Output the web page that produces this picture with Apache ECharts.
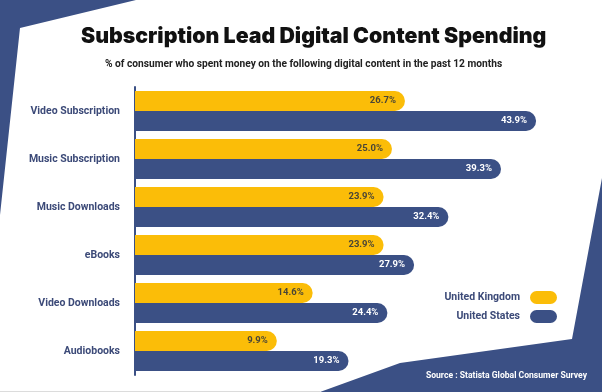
<!DOCTYPE html>
<html>
<head>
<meta charset="utf-8">
<script src="https://cdn.jsdelivr.net/npm/echarts@6/dist/echarts.min.js"></script>
<style>html,body{margin:0;padding:0;background:#fff}#c{width:602px;height:392px}</style>
</head>
<body>
<div id="c"></div>
<script>
const categories = ['Video Subscription','Music Subscription','Music Downloads','eBooks','Video Downloads','Audiobooks'];
const ukValues = [26.7, 25.0, 23.9, 23.9, 14.6, 9.9];
const usValues = [43.9, 39.3, 32.4, 27.9, 24.4, 19.3];
const seriesNames = ['United Kingdom','United States'];

const BLUE = '#3b5085';
const YELLOW = '#fbbd08';
const LABEL_BLUE = '#3c4a78';
const TFONT = 'Inter, Roboto, "Noto Sans", sans-serif';
const FONT = 'Roboto, Inter, "Noto Sans", sans-serif';
const pill = 'path://M6.5,0 H20.5 A6.5,6.5 0 0 1 20.5,13 H6.5 A6.5,6.5 0 0 1 6.5,0 Z';

const chart = echarts.init(document.getElementById('c'), null, {renderer:'canvas'});
chart.setOption({
  backgroundColor: '#ffffff',
  animation: false,
  graphic: [
    {type:'polygon', z:-10, shape:{points:[[0,0],[136,0],[20,28],[0,215]]}, style:{fill:BLUE}},
    {type:'polygon', z:-10, shape:{points:[[602,178],[572,339],[400,363],[320,392],[602,392]]}, style:{fill:BLUE}},
    {type:'line', z:-9, shape:{x1:0,y1:391.5,x2:320,y2:391.5}, style:{stroke:'#dcdcdc', lineWidth:1}}
  ],
  title: [
    {text:'Subscription Lead Digital Content Spending', left:81, top:26, padding:0,
     textStyle:{fontFamily:TFONT, fontWeight:900, fontSize:21.3, color:'#111111'}},
    {text:'% of consumer who spent money on the following digital content in the past 12 months', left:105, top:59, padding:0,
     textStyle:{fontFamily:FONT, fontWeight:700, fontSize:10.2, color:'#222222'}},
    {text:'Source : Statista Global Consumer Survey', right:15, top:371, padding:0,
     textStyle:{fontFamily:FONT, fontWeight:700, fontSize:8.6, color:'#ffffff'}}
  ],
  legend: {
    orient:'vertical', align:'right', right:40, top:286,
    itemWidth:27, itemHeight:13, itemGap:6,
    data: seriesNames.map(n => ({name:n, icon:pill})),
    textStyle:{fontFamily:FONT, fontWeight:700, fontSize:10.5, color:LABEL_BLUE, padding:[0,5,0,0]}
  },
  grid: {left:135, top:87, width:427, height:288, containLabel:false},
  xAxis: {type:'value', min:-8.7, max:47.3, startValue:-8.7, show:false},
  yAxis: {
    type:'category', data:categories, inverse:true,
    axisLine:{show:true, onZero:false, lineStyle:{color:BLUE, width:2}},
    axisTick:{show:false},
    axisLabel:{margin:15, fontFamily:FONT, fontWeight:700, fontSize:10.5, color:LABEL_BLUE},
    splitLine:{show:false}
  },
  series: [
    {name:seriesNames[0], type:'bar', data:ukValues, barWidth:20, barGap:'0%',
     itemStyle:{color:YELLOW, borderRadius:[0,10,10,0]},
     label:{show:true, position:'insideRight', distance:9, formatter: p => p.value.toFixed(1)+'%',
            fontFamily:FONT, fontWeight:700, fontSize:9.5, color:'#4a4636'}},
    {name:seriesNames[1], type:'bar', data:usValues, barWidth:20, barGap:'0%',
     itemStyle:{color:BLUE, borderRadius:[0,10,10,0]},
     label:{show:true, position:'insideRight', distance:9, formatter: p => p.value.toFixed(1)+'%',
            fontFamily:FONT, fontWeight:700, fontSize:9.5, color:'#ffffff'}}
  ]
});
</script>
</body>
</html>
